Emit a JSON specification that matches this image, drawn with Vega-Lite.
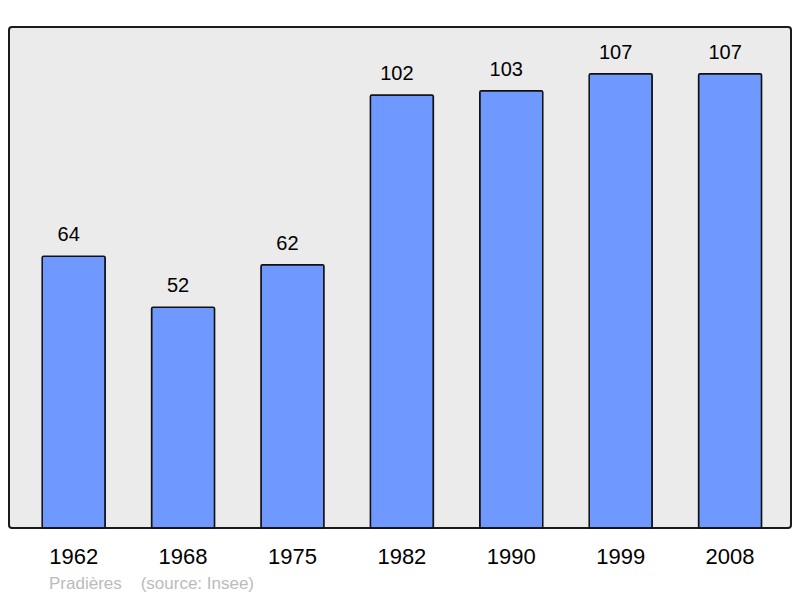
{
  "$schema": "https://vega.github.io/schema/vega-lite/v6.json",
  "width": 782,
  "height": 501,
  "autosize": "none",
  "padding": {"left": 9, "top": 27, "right": 9, "bottom": 70},
  "background": "white",
  "data": {"values": [
    {"year": "1962", "pop": 64},
    {"year": "1968", "pop": 52},
    {"year": "1975", "pop": 62},
    {"year": "1982", "pop": 102},
    {"year": "1990", "pop": 103},
    {"year": "1999", "pop": 107},
    {"year": "2008", "pop": 107}
  ]},
  "title": {
    "text": "Pradières\u00a0\u00a0\u00a0\u00a0(source: Insee)",
    "orient": "bottom",
    "anchor": "start",
    "dx": 40,
    "offset": 9,
    "fontSize": 17,
    "fontWeight": "normal",
    "color": "#bbbbbb",
    "font": "Liberation Sans"
  },
  "config": {
    "view": {"fill": "#ebebeb", "stroke": "#1a1a1a", "strokeWidth": 2, "cornerRadius": 3},
    "font": "Liberation Sans"
  },
  "encoding": {
    "x": {
      "field": "year", "type": "ordinal",
      "scale": {"paddingInner": 0.424, "paddingOuter": 0.286, "align": 0.53},
      "axis": {"title": null, "labelAngle": 0, "ticks": false, "domain": false, "labelFontSize": 22, "labelColor": "#000", "labelPadding": 18, "labelFont": "Liberation Sans"}
    },
    "y": {
      "field": "pop", "type": "quantitative",
      "scale": {"domain": [0, 118], "nice": false},
      "axis": null
    }
  },
  "layer": [
    {"mark": {"type": "bar", "fill": "#7099ff", "stroke": "#111", "strokeWidth": 1.5, "cornerRadius": 1.5}},
    {"mark": {"type": "text", "baseline": "bottom", "dy": -11, "dx": -5, "fontSize": 20, "color": "#000", "font": "Liberation Sans"},
     "encoding": {"text": {"field": "pop", "type": "quantitative"}}}
  ]
}
